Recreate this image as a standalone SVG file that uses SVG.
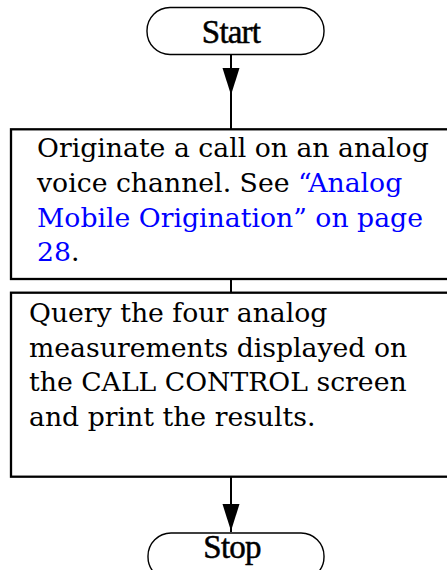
<svg xmlns="http://www.w3.org/2000/svg" width="447" height="570" viewBox="0 0 447 570">
<style>
.term{fill:#fff;stroke:#000;stroke-width:1.4}
.box{fill:#fff;stroke:#000;stroke-width:2.3}
.tt{font-family:"Liberation Serif","Times New Roman",serif;font-size:33px;fill:#000;text-anchor:middle;stroke:#000;stroke-width:0.5;letter-spacing:-0.8px}
.bt{font-family:"DejaVu Serif","Liberation Serif",serif;font-size:26.7px;fill:#000}
.lk{fill:#0000ff}
.cn{stroke:#000;stroke-width:2;fill:none}
</style>
<g id="connectors">
<line class="cn" x1="231" y1="54" x2="231" y2="129"/>
<path d="M222.5,68 L239.5,68 L231,95 Z" fill="#000"/>
<line class="cn" x1="231" y1="279" x2="231" y2="293"/>
<line class="cn" x1="231" y1="477" x2="231" y2="532"/>
<path d="M222.5,504 L239.5,504 L231,531 Z" fill="#000"/>
</g>
<g id="start">
<rect class="term" x="147" y="7.5" width="177" height="47" rx="23" ry="23"/>
<text class="tt" x="231" y="43">Start</text>
</g>
<g id="originate">
<rect class="box" x="11" y="129.3" width="445" height="149.7"/>
<text class="bt" x="37" y="157.3">Originate a call on an analog</text>
<text class="bt" x="37" y="191.7">voice channel. See <tspan class="lk">“Analog</tspan></text>
<text class="bt lk" x="37" y="226.5">Mobile Origination” on page</text>
<text class="bt" x="37" y="261"><tspan class="lk">28</tspan>.</text>
</g>
<g id="query">
<rect class="box" x="11" y="292.7" width="445" height="184"/>
<text class="bt" x="29" y="322.3">Query the four analog</text>
<text class="bt" x="29" y="356.7">measurements displayed on</text>
<text class="bt" x="29" y="391">the CALL CONTROL screen</text>
<text class="bt" x="29" y="425.7">and print the results.</text>
</g>
<g id="stop">
<rect class="term" x="148" y="533" width="176" height="47" rx="23" ry="23"/>
<text class="tt" x="232" y="558">Stop</text>
</g>
</svg>
